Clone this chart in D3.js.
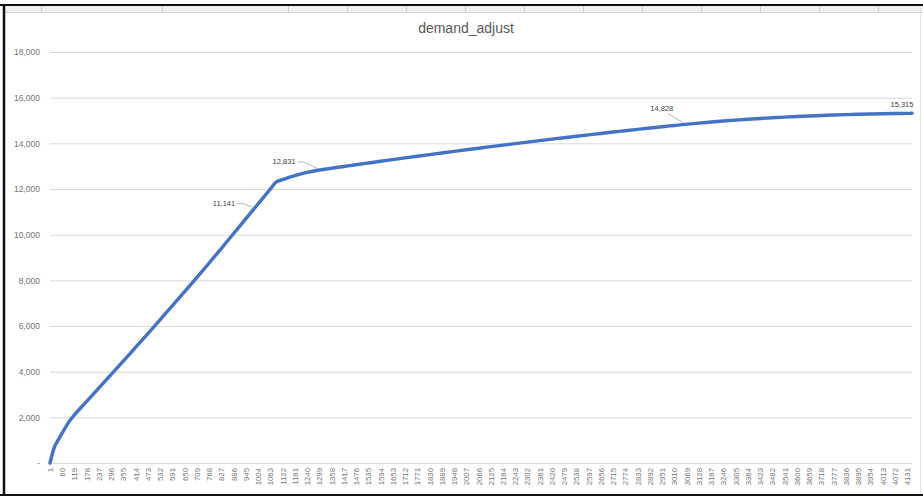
<!DOCTYPE html>
<html>
<head>
<meta charset="utf-8">
<script src="https://cdn.jsdelivr.net/npm/d3@7"></script>
<style>
  html, body { margin: 0; padding: 0; background: #fff; }
  svg { display: block; }
  text { font-family: "Liberation Sans", Arial, sans-serif; }
</style>
</head>
<body>
<svg id="chart" width="923" height="498"></svg>
<script>
// Series: demand_adjust, sampled at row positions (row number, value)
const rowIndex = [
  1, 20, 40, 60, 90, 119, 178, 237, 296, 355, 414, 473, 532, 591, 650, 709, 768, 827, 886, 945,
  985, 1004, 1063, 1090, 1122, 1181, 1240, 1300, 1358, 1417, 1476, 1535, 1594, 1653,
  1712, 1771, 1830, 1889, 1948, 2007, 2066, 2125, 2184, 2243, 2302, 2361, 2420, 2479,
  2538, 2597, 2656, 2715, 2774, 2833, 2892, 2951, 3010, 3060, 3128, 3187, 3246, 3305,
  3364, 3423, 3482, 3541, 3600, 3659, 3718, 3777, 3836, 3895, 3954, 4013, 4072, 4131, 4155
];
const demandAdjust = [
  0, 640, 1000, 1320, 1770, 2110, 2700, 3290, 3880, 4470, 5070, 5670, 6280, 6890, 7510, 8130, 8760, 9400, 10050, 10700,
  11141, 11350, 12000, 12300, 12410, 12588, 12727, 12831, 12909, 12986, 13063, 13138, 13213, 13287,
  13361, 13434, 13506, 13577, 13647, 13717, 13786, 13854, 13921, 13988, 14054, 14119, 14183, 14247,
  14310, 14372, 14433, 14494, 14553, 14612, 14671, 14728, 14782, 14828, 14886, 14934, 14978, 15018,
  15055, 15089, 15120, 15148, 15174, 15198, 15220, 15240, 15258, 15274, 15287, 15298, 15306, 15312, 15315
];

// Category axis labels (every 59th row)
const xTickLabels = [
  1, 60, 119, 178, 237, 296, 355, 414, 473, 532, 591, 650, 709, 768, 827, 886, 945, 1004, 1063,
  1122, 1181, 1240, 1299, 1358, 1417, 1476, 1535, 1594, 1653, 1712, 1771, 1830, 1889, 1948, 2007,
  2066, 2125, 2184, 2243, 2302, 2361, 2420, 2479, 2538, 2597, 2656, 2715, 2774, 2833, 2892, 2951,
  3010, 3069, 3128, 3187, 3246, 3305, 3364, 3423, 3482, 3541, 3600, 3659, 3718, 3777, 3836, 3895,
  3954, 4013, 4072, 4131
];
const yTicks = [0, 2000, 4000, 6000, 8000, 10000, 12000, 14000, 16000, 18000];

// Rows carrying data labels
const labelledRows = [985, 1300, 3060, 4155];

const rowCount = 4155;
const title = "demand_adjust";

const svg = d3.select("#chart");
const W = 923, H = 498;
const plot = { left: 50, right: 912, top: 52, bottom: 463 };

const x = d3.scaleLinear().domain([1, rowCount]).range([plot.left, plot.right]);
const y = d3.scaleLinear().domain([0, 18000]).range([plot.bottom, plot.top]);

// Sheet backdrop: strip of cells along the top edge and the frame
const strip = svg.append("g");
strip.append("rect").attr("x", 4).attr("y", 6).attr("width", W - 4).attr("height", 6).attr("fill", "#f1f1f1");
strip.append("line").attr("x1", 4).attr("x2", W).attr("y1", 12.5).attr("y2", 12.5).attr("stroke", "#d4d4d4");
const cellEdges = [41, 162].concat(d3.range(288, 900, 59));
strip.selectAll("line.cell").data(cellEdges).join("line")
  .attr("class", "cell")
  .attr("x1", d => d + 0.5).attr("x2", d => d + 0.5)
  .attr("y1", 6).attr("y2", 12)
  .attr("stroke", "#cfcfcf");
svg.append("line").attr("x1", 0).attr("x2", W).attr("y1", 5).attr("y2", 5).attr("stroke", "#111").attr("stroke-width", 2);
svg.append("line").attr("x1", 4).attr("x2", 4).attr("y1", 4).attr("y2", 496).attr("stroke", "#111").attr("stroke-width", 2.5);
svg.append("line").attr("x1", 0).attr("x2", W).attr("y1", 495).attr("y2", 495).attr("stroke", "#111").attr("stroke-width", 2);
svg.append("line").attr("x1", 920.5).attr("x2", 920.5).attr("y1", 6).attr("y2", 494).attr("stroke", "#e4e4e4");

// Title
svg.append("text")
  .attr("x", 466).attr("y", 33)
  .attr("text-anchor", "middle")
  .attr("font-size", 14)
  .attr("fill", "#595959")
  .text(title);

// Gridlines + value axis labels
const yAxis = d3.axisLeft(y)
  .tickValues(yTicks)
  .tickSize(-(plot.right - plot.left))
  .tickPadding(10)
  .tickFormat(d => d === 0 ? "-" : d3.format(",")(d));
const gy = svg.append("g").attr("transform", `translate(${plot.left},0)`).call(yAxis);
gy.select(".domain").remove();
gy.selectAll(".tick line").attr("stroke", "#d9d9d9").attr("stroke-width", 1);
gy.selectAll(".tick text")
  .attr("font-size", 8.5)
  .attr("fill", "#737373")
  .attr("font-family", "Liberation Sans, Arial, sans-serif");
gy.selectAll(".tick").filter(d => d === 0).select("line").remove();

// Category axis
const xAxis = d3.axisBottom(x)
  .tickValues(xTickLabels)
  .tickSize(0)
  .tickFormat(d3.format("d"));
const gx = svg.append("g").attr("transform", `translate(0,${plot.bottom})`).call(xAxis);
gx.select(".domain").attr("stroke", "#d9d9d9").attr("d", `M${plot.left},0.5H${plot.right}`);
gx.selectAll(".tick text")
  .attr("font-size", 7.8)
  .attr("fill", "#737373")
  .attr("font-family", "Liberation Sans, Arial, sans-serif")
  .attr("text-anchor", "end")
  .attr("dy", "0.32em")
  .attr("transform", "translate(0,5) rotate(-90)")
  .attr("x", 0).attr("y", 0);

// Line
const pts = rowIndex.map((r, i) => ({ r, v: demandAdjust[i] }));
const line = d3.line().x(d => x(d.r)).y(d => y(d.v)).curve(d3.curveMonotoneX);
svg.append("path")
  .datum(pts)
  .attr("d", line)
  .attr("fill", "none")
  .attr("stroke", "#4472c4")
  .attr("stroke-width", 3.4)
  .attr("stroke-linejoin", "round")
  .attr("stroke-linecap", "round");

// Data labels with leader lines
const fmt = d3.format(",");
const labelOffsets = { 985: [-19, -5], 1300: [-24, -8], 3060: [-23, -16], 4155: [-10, -9] };
const labels = svg.append("g");
labelledRows.forEach(r => {
  const d = pts.find(p => p.r === r);
  const px = x(d.r), py = y(d.v);
  const [dx, dy] = labelOffsets[r];
  const lx = px + dx, ly = py + dy;
  if (r !== 4155) {
    let path;
    if (r === 3060) {
      path = `M${lx + 6},${ly + 5}L${px - 2},${py - 2}`;
    } else {
      path = `M${lx + 2},${ly}H${lx + 8}L${px - 2},${py - 1.5}`;
    }
    labels.append("path").attr("d", path).attr("fill", "none").attr("stroke", "#a6a6a6").attr("stroke-width", 0.8);
  }
  labels.append("text")
    .attr("x", lx)
    .attr("y", ly)
    .attr("dy", "0.32em")
    .attr("text-anchor", r === 3060 || r === 4155 ? "middle" : "end")
    .attr("font-size", 7.5)
    .attr("fill", "#404040")
    .text(fmt(d.v));
});
</script>
</body>
</html>
